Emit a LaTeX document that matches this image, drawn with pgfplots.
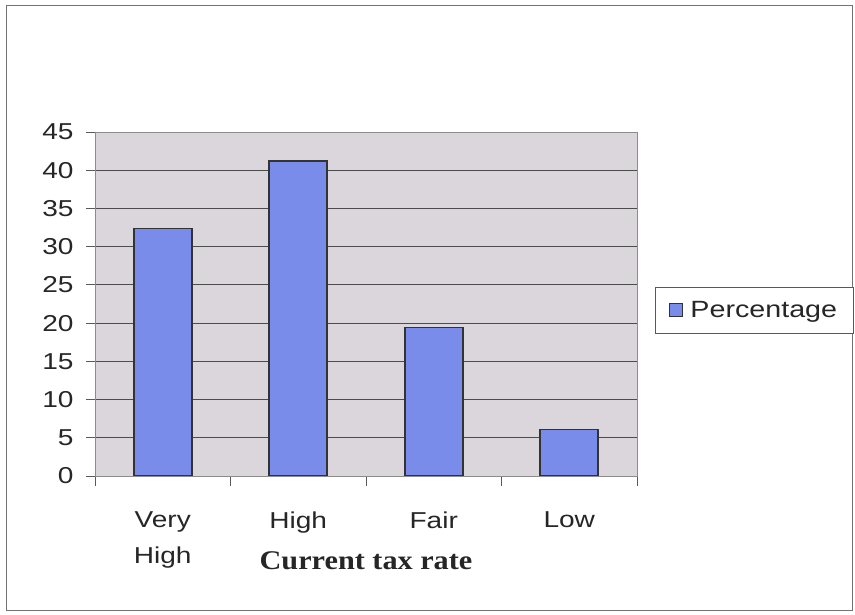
\documentclass[border=0pt]{standalone}
\usepackage{pgfplots}
\pgfplotsset{compat=1.18}
\usepackage{fontspec}
\setmainfont{Liberation Sans}[FakeStretch=1.22]
\newfontfamily\serifbf{Liberation Serif}[FakeStretch=1.12]
\definecolor{plotbg}{RGB}{219,214,220}
\definecolor{barblue}{RGB}{122,140,234}
\begin{document}
\begin{tikzpicture}[x=1pt,y=1pt]
\path[use as bounding box] (0,0) rectangle (855,615);
\draw[black!55, line width=1pt] (6,4) rectangle (852,609);
\begin{axis}[
  at={(95pt,139pt)}, anchor=south west,
  scale only axis, width=542pt, height=344pt,
  ymin=0, ymax=45, ytick={0,5,...,45},
  xmin=-0.5, xmax=3.5,
  xtick={0,1,2,3},
  xticklabels={Very\\High, High, Fair, Low},
  minor xtick={-0.5,0.5,1.5,2.5,3.5},
  major x tick style={draw=none},
  tick align=outside,
  major tick length=9pt,
  minor tick length=10pt,
  tick style={black!65, line width=0.8pt},
  xtick pos=bottom, ytick pos=left,
  ymajorgrids,
  grid style={black!70, line width=0.8pt},
  axis background/.style={fill=plotbg},
  axis line style={black!45, line width=0.8pt},
  /pgf/number format/assume math mode=true,
  yticklabel style={font=\fontsize{23}{26}\selectfont\color{black!85}, anchor=east, xshift=-9pt},
  xticklabel style={font=\fontsize{23}{36}\selectfont\color{black!85}, align=center, anchor=north, yshift=-23pt},
  xlabel={Current tax rate},
  xlabel style={font=\serifbf\bfseries\fontsize{27}{30}\selectfont\color{black!85}, at={(axis description cs:0.5,0)}, anchor=base, yshift=-94pt},
  ybar, bar width=58pt,
  legend style={at={(1.033,0.549)}, anchor=north west, draw=black!65, line width=0.8pt,
    font=\fontsize{23.5}{26}\selectfont\color{black!85}, inner xsep=14pt, inner ysep=12pt},
  legend image code/.code={\draw[#1, line width=1.2pt] (0pt,-6pt) rectangle (13pt,7pt);},
  legend style={/tikz/every even column/.append style={column sep=0pt}},
]
\addplot[fill=barblue, draw=black!80, line width=1.6pt] coordinates {(0,32.4) (1,41.2) (2,19.4) (3,6.1)};
\addlegendentry{\hspace{5pt}Percentage}
\end{axis}
\end{tikzpicture}
\end{document}
